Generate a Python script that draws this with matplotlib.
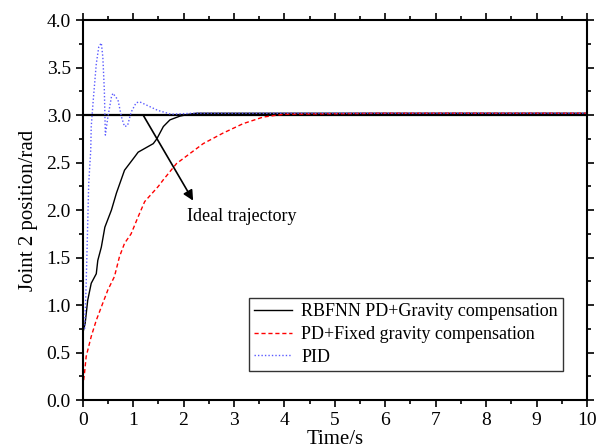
import matplotlib
matplotlib.use('Agg')
import matplotlib.pyplot as plt
from matplotlib.ticker import MultipleLocator

plt.rcParams['font.family'] = ['Liberation Serif', 'DejaVu Serif']

# values
t_ideal = [0, 10]
ideal = [3.0, 3.0]

t_rbf = [0.01, 0.05, 0.10, 0.17, 0.27, 0.30, 0.37, 0.44, 0.57, 0.67, 0.83,
         1.03, 1.10, 1.40, 1.47, 1.60, 1.73, 1.93, 2.12, 2.26, 3.0, 5.0, 10.0]
rbf = [0.72, 0.81, 1.05, 1.23, 1.33, 1.47, 1.61, 1.82, 2.00, 2.18, 2.42,
       2.56, 2.61, 2.70, 2.75, 2.88, 2.95, 2.99, 3.01, 3.02, 3.02, 3.02, 3.02]

t_pd = [0.02, 0.04, 0.07, 0.17, 0.27, 0.37, 0.50, 0.63, 0.73, 0.83, 0.96,
        1.10, 1.23, 1.50, 1.60, 1.86, 2.39, 2.78, 3.18, 3.58, 4.0, 6.0, 10.0]
pd = [0.21, 0.30, 0.46, 0.67, 0.84, 0.98, 1.16, 1.30, 1.51, 1.65, 1.75,
      1.93, 2.09, 2.25, 2.32, 2.49, 2.70, 2.81, 2.91, 2.98, 3.01, 3.02, 3.02]

t_pid = [0.04, 0.07, 0.12, 0.16, 0.17, 0.21, 0.27, 0.32, 0.37, 0.40, 0.43,
         0.45, 0.50, 0.57, 0.60, 0.70, 0.77, 0.83, 0.89, 0.96, 1.06, 1.13,
         1.29, 1.49, 1.75, 2.2, 5.0, 10.0]
pid = [0.75, 1.23, 2.28, 2.63, 2.88, 3.16, 3.54, 3.72, 3.76, 3.61, 3.26,
       2.79, 2.98, 3.19, 3.23, 3.16, 2.98, 2.88, 2.89, 3.03, 3.13, 3.14,
       3.10, 3.05, 3.01, 3.02, 3.02, 3.02]

labels = ['RBFNN PD+Gravity compensation', 'PD+Fixed gravity compensation', 'PID']

fig = plt.figure(figsize=(5.99, 4.48), dpi=100)
ax = fig.add_axes([0.138, 0.107, 0.842, 0.848])

ax.plot(t_ideal, ideal, color='black', lw=1.6)
ax.plot(t_rbf, rbf, color='black', lw=1.0, label=labels[0])
ax.plot(t_pd, pd, color='red', lw=1.0, ls=(0, (3, 2)), label=labels[1])
ax.plot(t_pid, pid, color='#5a5aff', lw=1.0, ls=(0, (1, 1.5)), label=labels[2])

ax.annotate('', xy=(2.19, 2.1), xytext=(1.2, 3.0),
            arrowprops=dict(arrowstyle='-|>', color='black', lw=1.2,
                            mutation_scale=15, shrinkA=0, shrinkB=0))
ax.text(2.06, 1.93, 'Ideal trajectory', fontsize=13, va='center', ha='left')

ax.set_xlim(0, 10)
ax.set_ylim(0, 4.0)
ax.xaxis.set_major_locator(MultipleLocator(1))
ax.xaxis.set_minor_locator(MultipleLocator(0.5))
ax.yaxis.set_major_locator(MultipleLocator(0.5))
ax.yaxis.set_minor_locator(MultipleLocator(0.25))
ax.yaxis.set_major_formatter(matplotlib.ticker.FormatStrFormatter('%.1f'))
ax.tick_params(which='both', direction='out', top=True, right=True, labelsize=14, width=1.2)
ax.tick_params(which='major', length=5)
ax.tick_params(which='minor', length=3)
for s in ax.spines.values():
    s.set_linewidth(1.5)

ax.set_xlabel('Time/s', fontsize=15, labelpad=1)
ax.set_ylabel('Joint 2 position/rad', fontsize=15, labelpad=6)

leg = ax.legend(loc='lower right', bbox_to_anchor=(0.953, 0.076), fontsize=13,
                frameon=True, fancybox=False, edgecolor='black', handlelength=2.1,
                borderpad=0.3, labelspacing=0.32, handletextpad=0.5,
                borderaxespad=0)
leg.get_frame().set_linewidth(1.0)

fig.savefig('out.png', dpi=100)
